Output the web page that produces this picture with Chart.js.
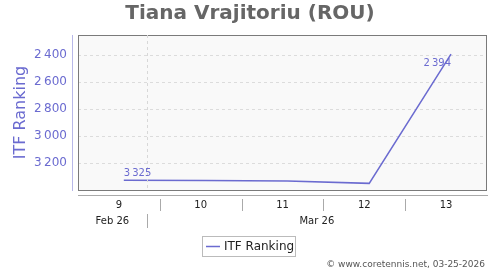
<!DOCTYPE html>
<html>
<head>
<meta charset="utf-8">
<script src="https://cdn.jsdelivr.net/npm/chart.js@4.4.1/dist/chart.umd.min.js"></script>
<style>
  html, body { margin: 0; padding: 0; background: #fff; }
  #wrap { width: 500px; height: 270px; position: relative; }
</style>
</head>
<body>
<div id="wrap"><canvas id="rankChart"></canvas></div>
<script>
// week numbers (x) and ranking values (y)
const weeks = [9.06, 10.06, 11.06, 12.06, 13.06];
const ranks = [3325, 3326, 3330, 3348, 2394];
const weekLabels = [9, 10, 11, 12, 13];
const yTicks = [2400, 2600, 2800, 3000, 3200];
const months = [
  { label: 'Feb 26', from: 8.5, to: 9.34 },
  { label: 'Mar 26', from: 9.34, to: 13.5 }
];
const shownLabels = [0, 4]; // points that carry a value label
const seriesName = 'ITF Ranking';
const titleText = 'Tiana Vrajitoriu (ROU)';
const creditText = '\u00a9 www.coretennis.net, 03-25-2026';

const purple = '#6b6bd0';
const font = '"DejaVu Sans", sans-serif';

function fmt(v) {
  const s = String(Math.round(v));
  return s.length > 3 ? s.slice(0, -3) + '\u2009' + s.slice(-3) : s;
}

const decor = {
  id: 'decor',
  beforeDraw(chart) {
    const { ctx, chartArea: a } = chart;
    ctx.save();
    ctx.fillStyle = '#f9f9f9';
    ctx.fillRect(a.left, a.top, a.right - a.left, a.bottom - a.top);
    ctx.restore();
  },
  afterDatasetsDraw(chart) {
    const { ctx, chartArea: a } = chart;
    const xs = chart.scales.x;
    ctx.save();

    // plot border
    ctx.strokeStyle = '#7a7a7a';
    ctx.lineWidth = 1;
    ctx.strokeRect(a.left + 0.5, a.top + 0.5, a.right - a.left - 1, a.bottom - a.top);

    // y axis line
    ctx.strokeStyle = '#b8b8e8';
    ctx.beginPath();
    ctx.moveTo(a.left - 5.5, a.top);
    ctx.lineTo(a.left - 5.5, a.bottom + 1);
    ctx.stroke();

    // month boundary in plot
    ctx.strokeStyle = '#d8d8d8';
    ctx.setLineDash([3, 3]);
    months.slice(1).forEach(m => {
      const px = Math.round(xs.getPixelForValue(m.from)) + 0.5;
      ctx.beginPath();
      ctx.moveTo(px, a.top);
      ctx.lineTo(px, a.bottom);
      ctx.stroke();
    });
    ctx.setLineDash([]);

    // x axis line
    const axY = a.bottom + 5.5;
    ctx.strokeStyle = '#aaa';
    ctx.beginPath();
    ctx.moveTo(a.left, axY);
    ctx.lineTo(a.right + 1, axY);
    ctx.stroke();

    // week labels and separators
    ctx.fillStyle = '#222';
    ctx.font = '10px ' + font;
    ctx.textAlign = 'center';
    ctx.textBaseline = 'middle';
    weekLabels.forEach((w, i) => {
      ctx.fillText(String(w), xs.getPixelForValue(w), a.bottom + 15);
      if (i < weekLabels.length - 1) {
        const px = Math.round(xs.getPixelForValue(w + 0.5)) + 0.5;
        ctx.strokeStyle = '#aaa';
        ctx.beginPath();
        ctx.moveTo(px, a.bottom + 9);
        ctx.lineTo(px, a.bottom + 21);
        ctx.stroke();
      }
    });

    // month labels
    months.forEach((m, i) => {
      const l = xs.getPixelForValue(m.from), r = xs.getPixelForValue(m.to);
      ctx.fillText(m.label, (l + r) / 2, a.bottom + 31);
      if (i > 0) {
        const px = Math.round(l) + 0.5;
        ctx.beginPath();
        ctx.moveTo(px, a.bottom + 24);
        ctx.lineTo(px, a.bottom + 38);
        ctx.stroke();
      }
    });

    // value labels
    const meta = chart.getDatasetMeta(0);
    ctx.fillStyle = purple;
    ctx.font = '10px ' + font;
    shownLabels.forEach(i => {
      const p = meta.data[i];
      if (i === ranks.length - 1) {
        ctx.textAlign = 'right';
        ctx.fillText(fmt(ranks[i]), p.x, p.y + 9);
      } else {
        ctx.textAlign = 'left';
        ctx.fillText(fmt(ranks[i]), p.x, p.y - 7);
      }
    });

    // title
    ctx.fillStyle = '#666';
    ctx.font = 'bold 20px ' + font;
    ctx.textAlign = 'center';
    ctx.fillText(titleText, 250, 14);

    // legend
    ctx.strokeStyle = '#bbb';
    ctx.lineWidth = 1;
    ctx.strokeRect(202.5, 236.5, 93, 20);
    ctx.strokeStyle = purple;
    ctx.lineWidth = 1.5;
    ctx.beginPath();
    ctx.moveTo(206, 246.5);
    ctx.lineTo(220, 246.5);
    ctx.stroke();
    ctx.fillStyle = '#222';
    ctx.font = '12px ' + font;
    ctx.textAlign = 'left';
    ctx.fillText(seriesName, 224, 246.5);

    // credit
    ctx.fillStyle = '#555';
    ctx.font = '9px ' + font;
    ctx.textAlign = 'right';
    ctx.fillText(creditText, 485, 265);

    ctx.restore();
  }
};

new Chart(document.getElementById('rankChart'), {
  type: 'line',
  data: {
    datasets: [{
      label: seriesName,
      data: weeks.map((w, i) => ({ x: w, y: ranks[i] })),
      borderColor: purple,
      borderWidth: 1.5,
      pointRadius: 0,
      tension: 0,
      fill: false
    }]
  },
  options: {
    responsive: true,
    maintainAspectRatio: false,
    animation: false,
    layout: { padding: { left: 0, right: 13, top: 35, bottom: 80 } },
    plugins: {
      legend: { display: false },
      title: { display: false },
      tooltip: { enabled: false }
    },
    scales: {
      x: {
        type: 'linear',
        min: 8.5,
        max: 13.5,
        ticks: { display: false },
        grid: { display: false },
        border: { display: false },
        afterFit(scale) { scale.height = 0; }
      },
      y: {
        reverse: true,
        min: 2252,
        max: 3397,
        afterBuildTicks(scale) {
          scale.ticks = yTicks.map(v => ({ value: v }));
        },
        ticks: {
          color: purple,
          font: { family: font, size: 12 },
          padding: 11,
          callback: v => fmt(v)
        },
        grid: {
          color: '#dcdcdc',
          drawTicks: false
        },
        border: { display: false, dash: [3, 3] },
        title: {
          display: true,
          text: seriesName,
          color: purple,
          font: { family: font, size: 16 },
          padding: { top: 11, bottom: 0 }
        },
        afterFit(scale) { scale.width = 78; }
      }
    }
  },
  plugins: [decor]
});
</script>
</body>
</html>
